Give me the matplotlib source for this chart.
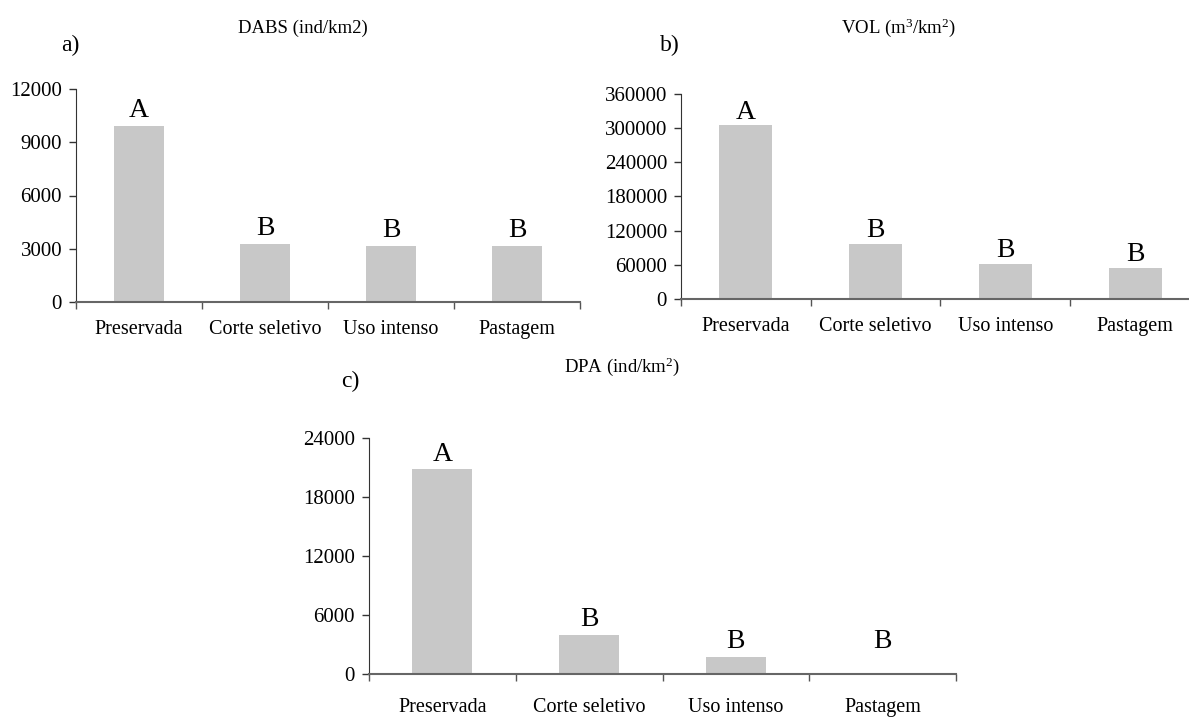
import matplotlib
matplotlib.use("Agg")
import matplotlib.pyplot as plt
import numpy as np

plt.rcParams['font.family'] = ['Liberation Serif', 'DejaVu Serif']
plt.rcParams['mathtext.fontset'] = 'custom'
plt.rcParams['mathtext.rm'] = 'Liberation Serif'
plt.rcParams['mathtext.it'] = 'Liberation Serif:italic'

categories = ["Preservada", "Corte seletivo", "Uso intenso", "Pastagem"]

dabs_values = [9900, 3270, 3150, 3150]
dabs_letters = ["A", "B", "B", "B"]
dabs_ticks = [0, 3000, 6000, 9000, 12000]

vol_values = [305000, 96500, 61500, 54500]
vol_letters = ["A", "B", "B", "B"]
vol_ticks = [0, 60000, 120000, 180000, 240000, 300000, 360000]

dpa_values = [20800, 4000, 1750, 0]
dpa_letter_base = [20800, 4000, 1750, 1750]
dpa_letters = ["A", "B", "B", "B"]
dpa_ticks = [0, 6000, 12000, 18000, 24000]

W, H = 1189, 717
fig = plt.figure(figsize=(W / 100, H / 100), dpi=100)

BAR = '#c8c8c8'


def px_axes(left, right, y0, ytop):
    return fig.add_axes([left / W, 1 - y0 / H, (right - left) / W, (y0 - ytop) / H])


def draw(ax, values, letter_base, letters, ticks, xmax, width, letter_off, xpad):
    x = np.arange(len(categories))
    ax.bar(x, values, width=width, color=BAR, zorder=2)
    ax.set_xlim(-0.5, xmax)
    ax.set_ylim(0, ticks[-1])
    ax.set_yticks(ticks)
    ax.set_yticklabels([str(t) for t in ticks])
    ax.set_xticks(x)
    ax.set_xticklabels(categories)
    ax.set_xticks(np.arange(-0.5, len(categories) + 0.5, 1.0), minor=True)
    ax.tick_params(axis='x', which='major', length=0, pad=xpad, labelsize=14.5)
    ax.tick_params(axis='x', which='minor', length=5, width=1, color='#555555', direction='out')
    ax.tick_params(axis='y', length=5, width=1, color='#333333', pad=5, labelsize=15)
    for s in ('top', 'right'):
        ax.spines[s].set_visible(False)
    ax.spines['left'].set_color('#333333')
    ax.spines['bottom'].set_color('#666666')
    ax.spines['bottom'].set_linewidth(1.5)
    for xi, b, l in zip(x, letter_base, letters):
        ax.annotate(l, (xi, b), xytext=(0, letter_off), textcoords='offset points',
                    ha='center', va='bottom', fontsize=20)


ax_a = px_axes(76, 580, 302, 89)
draw(ax_a, dabs_values, dabs_values, dabs_letters, dabs_ticks, (580 - 76) / 131.3 - 0.5, 0.40, 2, 13)

ax_b = px_axes(681, 1200, 299, 94)
draw(ax_b, vol_values, vol_values, vol_letters, vol_ticks, 3.5, 0.41, 0.5, 13)

ax_c = px_axes(369, 956, 674, 438)
draw(ax_c, dpa_values, dpa_letter_base, dpa_letters, dpa_ticks, 3.5, 0.41, 2, 17)

fig.text(303 / W, 1 - 28 / H, "DABS (ind/km2)", ha='center', va='center', fontsize=13.5)
fig.text(898 / W, 1 - 28 / H, "VOL (m$^{3}$/km$^{2}$)", ha='center', va='center', fontsize=13.5)
fig.text(622 / W, 1 - 367 / H, "DPA (ind/km$^{2}$)", ha='center', va='center', fontsize=13.5)

fig.text(70 / W, 1 - 45 / H, "a)", ha='center', va='center', fontsize=17)
fig.text(670 / W, 1 - 45 / H, "b)", ha='center', va='center', fontsize=17)
fig.text(350 / W, 1 - 381 / H, "c)", ha='center', va='center', fontsize=17)

fig.savefig("out.png", dpi=100)
